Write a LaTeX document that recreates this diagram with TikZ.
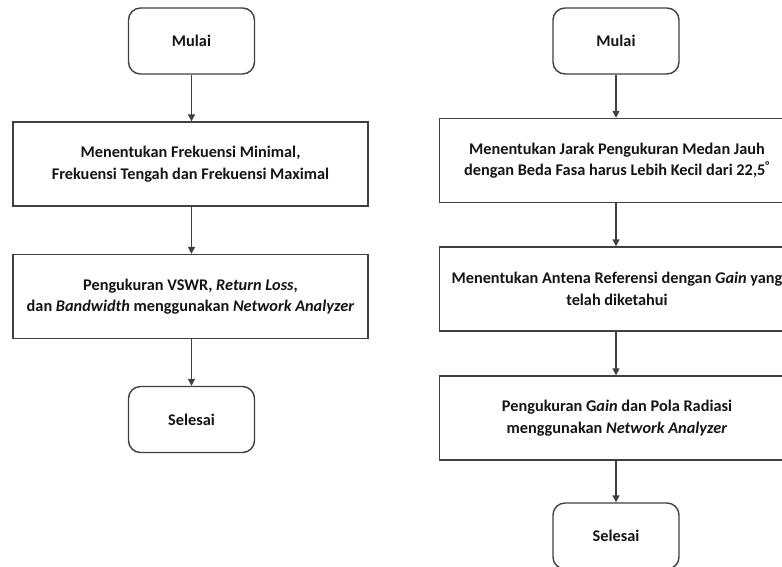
\documentclass[tikz,border=0pt]{standalone}
\usepackage{fontspec}
\setmainfont{Carlito}
\usetikzlibrary{arrows.meta}
\definecolor{edge}{HTML}{404040}
\definecolor{ink}{HTML}{151515}
\tikzset{
  flowbase/.style={draw=edge, line width=1.4pt, fill=white, text=ink,
    font=\bfseries\fontsize{16.3}{21.5}\selectfont, align=center, inner sep=0pt},
  terminal/.style={flowbase, rounded corners=12pt, minimum width=126pt, minimum height=66pt},
  process/.style={flowbase, minimum width=355pt, minimum height=84pt},
  flowarrow/.style={draw=edge, line width=1.4pt, -{Triangle[width=7pt,length=7pt]}}
}
\begin{document}
\begin{tikzpicture}[x=1pt,y=-1pt]
\useasboundingbox (0,0) rectangle (782,566);
\clip (0,0) rectangle (782,566);
\fill[white] (0,0) rectangle (782,566);

% left flow: frequency measurement
\node[terminal] (l1) at (191.5,41) {Mulai};
\node[process] (l2) at (190.5,164) {Menentukan Frekuensi Minimal,\\Frekuensi Tengah dan Frekuensi Maximal};
\node[process] (l3) at (190.5,296.5) {Pengukuran VSWR, \textit{Return Loss},\\dan \textit{Bandwidth} menggunakan \textit{Network Analyzer}};
\node[terminal] (l4) at (191.5,419.5) {Selesai};

\draw[flowarrow] (l1.south) -- (l2.north -| l1.south);
\draw[flowarrow] (l2.south -| l1.south) -- (l3.north -| l1.south);
\draw[flowarrow] (l3.south -| l1.south) -- (l4.north);

% right flow: gain and radiation pattern measurement
\node[terminal] (r1) at (616,41) {Mulai};
\node[process] (r2) at (617,160.5) {Menentukan Jarak Pengukuran Medan Jauh\\dengan Beda Fasa harus Lebih Kecil dari 22,5\textsuperscript{°}};
\node[process] (r3) at (617,289) {Menentukan Antena Referensi dengan \textit{Gain} yang\\telah diketahui};
\node[process] (r4) at (617,418) {Pengukuran G\textit{ain} dan Pola Radiasi\\menggunakan \textit{Network Analyzer}};
\node[terminal] (r5) at (616,536) {Selesai};

\draw[flowarrow] (r1.south) -- (r2.north -| r1.south);
\draw[flowarrow] (r2.south -| r1.south) -- (r3.north -| r1.south);
\draw[flowarrow] (r3.south -| r1.south) -- (r4.north -| r1.south);
\draw[flowarrow] (r4.south -| r1.south) -- (r5.north);
\end{tikzpicture}
\end{document}
